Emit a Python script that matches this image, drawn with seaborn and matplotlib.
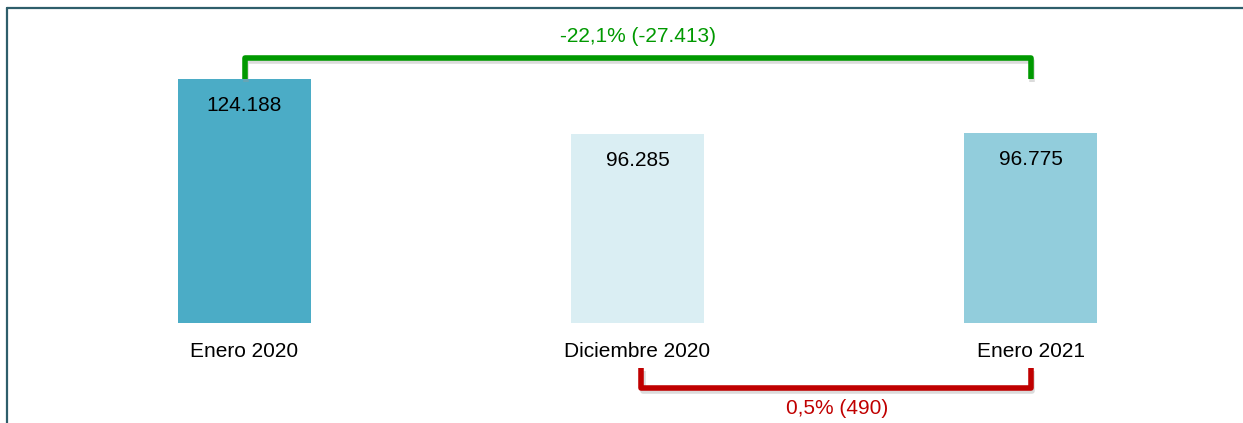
import matplotlib
matplotlib.use("Agg")
import matplotlib.pyplot as plt
import matplotlib.patheffects as pe
from matplotlib.lines import Line2D
import pandas as pd
import seaborn as sns

# data
categories = ["Enero 2020", "Diciembre 2020", "Enero 2021"]
values = [124188, 96285, 96775]
bar_colors = ["#4BACC6", "#DAEEF3", "#92CDDC"]


def fmt_num(v):
    return f"{v:,}".replace(",", ".")


def fmt_change(a, b):
    diff = b - a
    pct = diff / a * 100
    return f"{pct:.1f}".replace(".", ",") + f"% ({fmt_num(diff)})"


sns.set_style("white")
plt.rcParams['font.family'] = ['Liberation Sans', 'DejaVu Sans']

df = pd.DataFrame({"mes": categories, "valor": values})

fig = plt.figure(figsize=(12.43, 4.23), dpi=100)
ax = fig.add_axes([0, 100 / 423, 1, 323 / 423])
sns.barplot(data=df, x="mes", y="valor", hue="mes", palette=bar_colors,
            width=0.338, legend=False, ax=ax, saturation=1, edgecolor="none")

ymax = max(values) * 323 / 244
ax.set_xlim(-244.5 / 393, (1243 - 244.5) / 393)
ax.set_ylim(0, ymax)
ax.set_xlabel("")
ax.set_ylabel("")
ax.set_yticks([])
ax.tick_params(axis="x", length=0, pad=14, labelsize=15, labelcolor="black")
for s in ax.spines.values():
    s.set_visible(False)

# value labels inside bars
for i, v in enumerate(values):
    ax.text(i, v - max(values) * 0.108, fmt_num(v), ha="center", va="center",
            fontsize=15, color="black")

unit = max(values) / 244  # data units per pixel
shadow = [pe.SimpleLineShadow(offset=(1, -2), shadow_color="#999999", alpha=0.35),
          pe.Normal()]

# green bracket: Enero 2020 -> Enero 2021
top = max(values)
gy = top + 21 * unit
ax.plot([0, 0, 2, 2], [top, gy, gy, top], color="#009900", lw=4,
        solid_joinstyle="round", solid_capstyle="butt", clip_on=False,
        path_effects=shadow)
ax.text(1, top + 42 * unit, fmt_change(values[0], values[2]), ha="center",
        va="center", fontsize=15, color="#009900")

# red bracket: Diciembre 2020 -> Enero 2021
ry0 = -45 * unit
ry1 = -65 * unit
ax.plot([1.01, 1.01, 2, 2], [ry0, ry1, ry1, ry0], color="#C00000", lw=4,
        solid_joinstyle="round", solid_capstyle="butt", clip_on=False,
        path_effects=shadow)
ax.text(1.508, -85 * unit, fmt_change(values[1], values[2]), ha="center",
        va="center", fontsize=15, color="#C00000", clip_on=False)

# frame lines (left and top)
fig.add_artist(Line2D([7 / 1243, 7 / 1243], [0, 1 - 8 / 423],
                      transform=fig.transFigure, color="#2E5E6B", lw=1.6))
fig.add_artist(Line2D([7 / 1243, 1], [1 - 8 / 423, 1 - 8 / 423],
                      transform=fig.transFigure, color="#2E5E6B", lw=1.6))

fig.savefig("out.png", dpi=100)
